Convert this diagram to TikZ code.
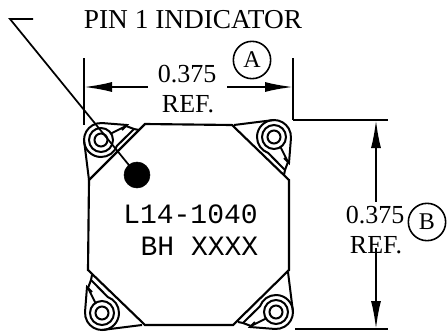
\documentclass[tikz,border=0pt]{standalone}
\usepackage{fontspec}
\setmainfont{Liberation Serif}
\newfontfamily\markfont{Liberation Mono}
\usetikzlibrary{arrows.meta}
\tikzset{
  dim/.style={line width=1.4pt,{Latex[length=21pt,width=7.5pt]}-},
  extline/.style={line width=1.2pt},
  dimtext/.style={inner sep=0pt,anchor=base,font=\fontsize{19.5}{22}\selectfont},
  bubble/.style={draw,line width=1.2pt,circle,minimum size=28pt,inner sep=0pt,font=\fontsize{18}{20}\selectfont},
  marking/.style={inner sep=0pt,anchor=base,font=\markfont\fontsize{21}{24}\selectfont},
  wire/.style={line width=1.5pt}
}
\newcommand{\pincoil}[3]{% centre x, y, rotation
  \begin{scope}[shift={(#1,#2)},rotate=#3]
    \draw [wire] (0,0) circle [radius=6.5];
    \draw [wire] (0,0) circle [radius=12];
    \draw [wire] (-12,40) -- (-17,0) arc [start angle=180,end angle=275,radius=17] -- (26,-15) -- (21,-10);
    \draw [wire] (-17,0) arc [start angle=180,end angle=20,radius=17] -- (33,-11) -- (38,-10);
    \draw [wire] (10,-6.5) -- (25,-14) -- (33,-11);
  \end{scope}
}
\begin{document}
\begin{tikzpicture}[x=0.75pt,y=-0.75pt]
\useasboundingbox (0,0) rectangle (447,333);
% body
\draw [line width=1.6pt] (145,124) -- (232,125) -- (289,180) -- (289,270) -- (233,325) -- (145,325) -- (88,270) -- (89,180) -- cycle;
% corner pins
\pincoil{101}{140}{0}
\pincoil{274}{137}{-90}
\pincoil{276}{312}{-180}
\pincoil{102}{313}{-270}
\draw [fill=black] (137,175) coordinate (dot) circle [radius=13];
% leader
\coordinate (hook) at (33,19);
\coordinate (bend) at (10,19);
\draw [line width=1.3pt] (hook) -- (bend) -- (dot);
\node [dimtext,font=\fontsize{20.5}{22}\selectfont] (pinlabel) at (193,28) {PIN 1 INDICATOR};
% width dimension
\coordinate (ax1) at (84,58);
\coordinate (ax2) at (84,125);
\coordinate (ay1) at (293,58);
\coordinate (ay2) at (293,120);
\draw [extline] (ax1) -- (ax2);
\draw [extline] (ay1) -- (ay2);
\coordinate (al) at (84,87);
\coordinate (ar) at (293,87);
\node [dimtext] (atext) at (187,82) {0.375};
\node [dimtext] (aref) at (188,112) {REF.};
\coordinate (als) at (148,87);
\coordinate (ars) at (227,87);
\draw [dim] (al) -- (als);
\draw [dim] (ar) -- (ars);
\node [bubble] (bubblea) at (252,60) {A};
% height dimension
\coordinate (bt1) at (293,120);
\coordinate (bt2) at (388,120);
\coordinate (bb1) at (295,329);
\coordinate (bb2) at (388,329);
\draw [extline] (bt1) -- (bt2);
\draw [extline] (bb1) -- (bb2);
\coordinate (bt) at (376,120);
\coordinate (bb) at (376,329);
\coordinate (bts) at (376,202);
\coordinate (bbs) at (376,248);
\draw [dim] (bt) -- (bts);
\draw [dim] (bb) -- (bbs);
\node [dimtext] (btext) at (375,223) {0.375};
\node [dimtext] (bref) at (376,253) {REF.};
\node [bubble] (bubbleb) at (427,222) {B};
% part marking
\node [marking] (partno) at (190.5,223) {L14-1040};
\node [marking] (batch) at (199.5,255) {BH XXXX};
\end{tikzpicture}
\end{document}
